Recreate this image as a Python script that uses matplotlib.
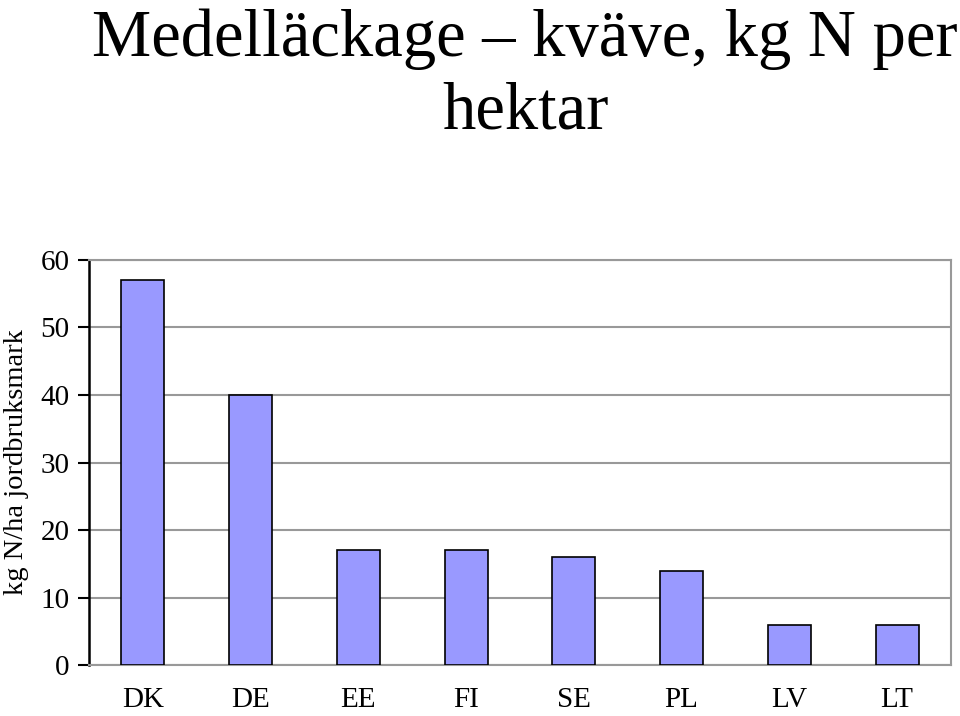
import matplotlib.pyplot as plt

# Data
countries = ['DK', 'DE', 'EE', 'FI', 'SE', 'PL', 'LV', 'LT']
leakage = [57, 40, 17, 17, 16, 14, 6, 6]
yticks = [0, 10, 20, 30, 40, 50, 60]

plt.rcParams['font.family'] = ['Liberation Serif', 'DejaVu Serif']

fig = plt.figure(figsize=(9.6, 7.16), dpi=100)
ax = fig.add_axes([0.0927, 0.0712, 0.8979, 0.5657])

x = range(len(countries))
ax.bar(x, leakage, width=0.4, color='#9999ff', edgecolor='black', linewidth=1.2, zorder=3)

ax.set_xlim(-0.5, len(countries) - 0.5)
ax.set_ylim(0, 60)
ax.set_yticks(yticks)
ax.set_yticklabels([str(t) for t in yticks], fontsize=21)
ax.set_xticks(list(x))
ax.set_xticklabels(countries, fontsize=21)
ax.tick_params(axis='x', length=0, pad=16)
ax.tick_params(axis='y', length=8, width=1.5, direction='out', pad=6)

ax.grid(axis='y', color='#999999', linewidth=1.5, zorder=0)
for side in ['top', 'right', 'bottom']:
    ax.spines[side].set_color('#999999')
    ax.spines[side].set_linewidth(1.5)
ax.spines['left'].set_color('black')
ax.spines['left'].set_linewidth(1.8)

ax.set_ylabel('kg N/ha jordbruksmark', fontsize=20.5, labelpad=8)

fig.text(0.547, 0.988, 'Medelläckage – kväve, kg N per\nhektar', ha='center', va='top',
         fontsize=48, linespacing=1.25)

fig.savefig('out.png', dpi=100)
